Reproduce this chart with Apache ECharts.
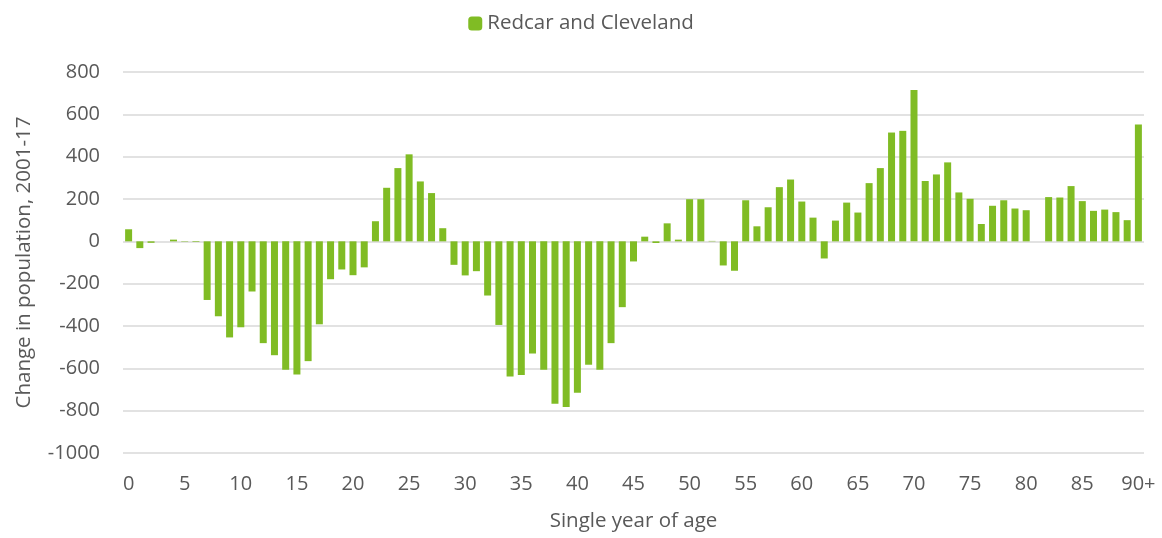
<!DOCTYPE html>
<html>
<head>
<meta charset="utf-8">
<script src="https://cdn.jsdelivr.net/npm/echarts@6/dist/echarts.min.js"></script>
<style>
    html, body { margin: 0; padding: 0; background: #fff; }
    #chart { width: 1162px; height: 538px; }
</style>
</head>
<body>
<div id="chart"></div>
<script>
// ages 0..89 then 90+
var ages = [];
for (var a = 0; a < 90; a++) { ages.push(String(a)); }
ages.push('90+');

var seriesName = 'Redcar and Cleveland';

// change in population 2001-17, by single year of age
var changeValues = [
    57, -32, -7, 0, 8, -2, -3, -277, -354, -454,
    -406, -237, -481, -538, -607, -629, -566, -392, -179, -133,
    -160, -123, 95, 253, 346, 411, 283, 228, 62, -111,
    -161, -141, -256, -395, -639, -631, -530, -607, -767, -783,
    -715, -583, -607, -481, -311, -95, 22, -8, 85, 8,
    199, 199, 2, -114, -139, 194, 71, 161, 256, 292,
    188, 112, -81, 98, 183, 136, 275, 346, 514, 522,
    715, 285, 316, 373, 231, 201, 82, 168, 194, 155,
    147, null, 209, 207, 261, 190, 144, 150, 138, 100,
    552
];

var yTicks = { min: -1000, max: 800, step: 200 };

function setOptionBar() {
    var option = {
        animation: false,
        textStyle: { fontFamily: 'Open Sans' },
        legend: {
            data: [seriesName],
            top: 8,
            left: 'center',
            itemWidth: 14,
            itemHeight: 14,
            itemGap: 10,
            textStyle: { color: '#595959', fontSize: 20.5, fontFamily: 'Open Sans' }
        },
        grid: { left: 123, right: 18, top: 72, bottom: 85 },
        xAxis: {
            type: 'category',
            data: ages,
            name: 'Single year of age',
            nameLocation: 'middle',
            nameGap: 58,
            nameTextStyle: { color: '#595959', fontSize: 20.5 },
            axisLine: { show: false },
            axisTick: { show: false },
            axisLabel: {
                interval: 4,
                color: '#595959',
                fontSize: 20,
                margin: 21
            }
        },
        yAxis: {
            type: 'value',
            min: yTicks.min,
            max: yTicks.max,
            interval: yTicks.step,
            name: 'Change in population, 2001-17',
            nameLocation: 'middle',
            nameGap: 88,
            nameTextStyle: { color: '#595959', fontSize: 20.5 },
            axisLine: { show: false },
            axisTick: { show: false },
            axisLabel: {
                color: '#595959',
                fontSize: 20,
                margin: 23,
                formatter: function (v) { return String(v); }
            },
            splitLine: { lineStyle: { color: '#d9d9d9', width: 1.5 } }
        },
        series: [
            {
                name: seriesName,
                type: 'bar',
                data: changeValues,
                barWidth: 7,
                itemStyle: { color: '#80bc24' }
            }
        ]
    };
    return option;
}

var chart = echarts.init(document.getElementById('chart'));
chart.setOption(setOptionBar());
</script>
</body>
</html>
